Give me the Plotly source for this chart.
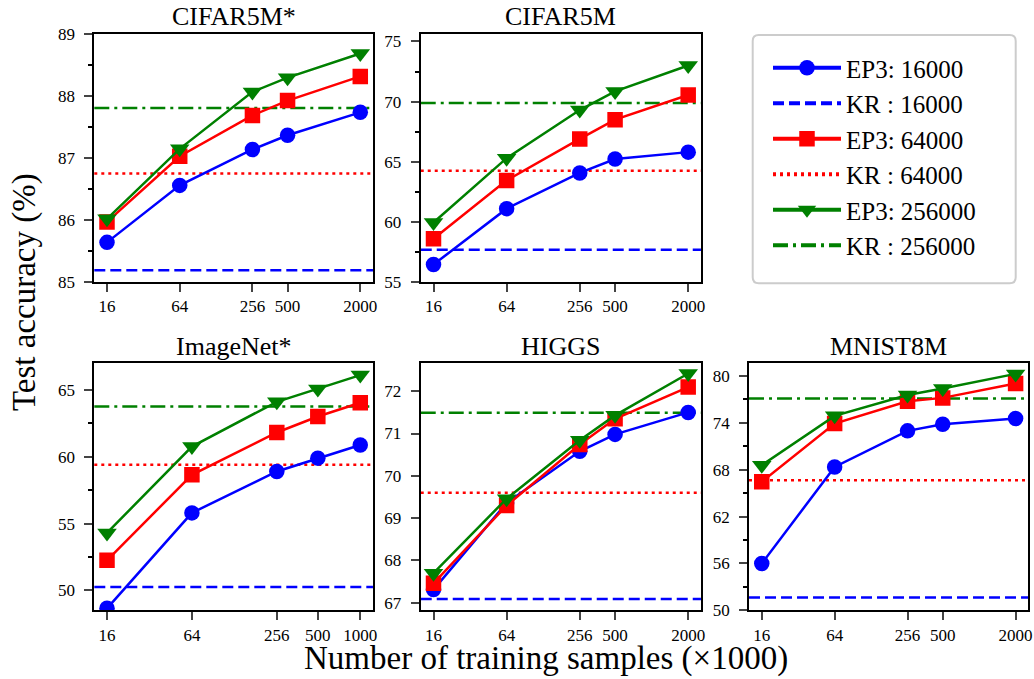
import plotly.graph_objects as go

# ---------------- data ----------------
x_samples = [16, 64, 256, 500, 2000]
x_samples_imagenet = [16, 64, 256, 500, 1000]
x_ticktext = ["16", "64", "256", "500", "2000"]
x_ticktext_imagenet = ["16", "64", "256", "500", "1000"]

titles = ["CIFAR5M*", "CIFAR5M", "ImageNet*", "HIGGS", "MNIST8M"]
series_names = ["16000", "64000", "256000"]

cifar5m_star_ep3 = [
    [85.64, 86.56, 87.14, 87.37, 87.74],
    [85.97, 87.03, 87.69, 87.93, 88.32],
    [86.02, 87.15, 88.07, 88.30, 88.69],
]
cifar5m_star_kr = [85.19, 86.75, 87.81]

cifar5m_ep3 = [
    [56.45, 61.10, 64.07, 65.22, 65.80],
    [58.60, 63.45, 66.90, 68.50, 70.55],
    [59.95, 65.30, 69.30, 70.85, 73.00],
]
cifar5m_kr = [57.69, 64.25, 69.88]

imagenet_star_ep3 = [
    [48.65, 55.80, 58.90, 59.90, 60.88],
    [52.25, 58.65, 61.82, 63.02, 64.05],
    [54.30, 60.77, 64.12, 65.08, 66.12],
]
imagenet_star_kr = [50.25, 59.40, 63.77]

higgs_ep3 = [
    [67.31, 69.36, 70.58, 70.98, 71.50],
    [67.46, 69.30, 70.74, 71.35, 72.10],
    [67.70, 69.46, 70.84, 71.43, 72.42],
]
higgs_kr = [67.09, 69.60, 71.49]

mnist8m_ep3 = [
    [55.98, 68.35, 72.96, 73.82, 74.54],
    [66.45, 73.90, 76.75, 77.18, 79.03],
    [68.57, 74.88, 77.55, 78.38, 80.25],
]
mnist8m_kr = [51.65, 66.65, 77.10]

y_tickvals = [
    [85, 86, 87, 88, 89],
    [55, 60, 65, 70, 75],
    [50, 55, 60, 65],
    [67, 68, 69, 70, 71, 72],
    [50, 56, 62, 68, 74, 80],
]

# ---------------- styles ----------------
FONT = "Liberation Serif"
colors = ["#0000ff", "#ff0000", "#008000"]
symbols = ["circle", "square", "triangle-down"]
msizes = [15.5, 15.5, 17]
kr_dash = ["11px,5px", "3px,4px", "15px,5px,3px,5px"]

panels = [
    (x_samples, x_ticktext, cifar5m_star_ep3, cifar5m_star_kr),
    (x_samples, x_ticktext, cifar5m_ep3, cifar5m_kr),
    (x_samples_imagenet, x_ticktext_imagenet, imagenet_star_ep3, imagenet_star_kr),
    (x_samples, x_ticktext, higgs_ep3, higgs_kr),
    (x_samples, x_ticktext, mnist8m_ep3, mnist8m_kr),
]

W, H = 1034, 679
col_dom = [[0.0912, 0.3607], [0.4069, 0.6779], [0.7244, 0.9945]]
row_dom = [[0.5847, 0.9495], [0.1011, 0.4649]]
positions = [(0, 0), (0, 1), (1, 0), (1, 1), (1, 2)]
x_ranges = [[1.099, 3.406], [1.099, 3.406], [1.114, 3.090], [1.099, 3.406], [1.099, 3.406]]
y_ranges = [[85, 89], [55, 75.6], [48.5, 67.0], [66.82, 72.66], [50, 81.6]]
minor_dt = [0.5, 2.5, 2.5, None, 3]

fig = go.Figure()
shapes = []
annotations = []
layout = {}

# legend-only entries (thicker samples, as in the reference legend)
for k in range(3):
    fig.add_trace(go.Scatter(
        x=[None], y=[None], mode="lines+markers", name="EP3: " + series_names[k],
        line=dict(color=colors[k], width=4),
        marker=dict(symbol=symbols[k], size=msizes[k], color=colors[k]),
        showlegend=True,
    ))
    fig.add_trace(go.Scatter(
        x=[None], y=[None], mode="lines", name="KR : " + series_names[k],
        line=dict(color=colors[k], width=4, dash=kr_dash[k]),
        showlegend=True,
    ))

for i, (xs, xtt, ep3, kr) in enumerate(panels):
    ax = "" if i == 0 else str(i + 1)
    xref, yref = "x" + ax, "y" + ax
    for k in range(3):
        fig.add_trace(go.Scatter(
            x=xs, y=ep3[k], xaxis=xref, yaxis=yref,
            mode="lines+markers", name="EP3: " + series_names[k],
            line=dict(color=colors[k], width=2.5),
            marker=dict(symbol=symbols[k], size=msizes[k], color=colors[k],
                        line=dict(width=0)),
            showlegend=False,
        ))
        shapes.append(dict(
            type="line", xref=xref + " domain", yref=yref, x0=0, x1=1,
            y0=kr[k], y1=kr[k], layer="below",
            line=dict(color=colors[k], width=2.5, dash=kr_dash[k]),
        ))
    r, c = positions[i]
    layout["xaxis" + ax] = dict(
        domain=col_dom[c], anchor=yref, type="log", range=x_ranges[i],
        tickvals=xs, ticktext=xtt, ticks="outside", ticklen=8, tickwidth=1.5,
        showline=True, mirror=True, linewidth=2, linecolor="black",
        showgrid=False, zeroline=False,
        tickfont=dict(family=FONT, size=17, color="black"),
    )
    ydict = dict(
        domain=row_dom[r], anchor=xref, range=y_ranges[i],
        tickvals=y_tickvals[i], ticks="outside", ticklen=8, tickwidth=1.5,
        showline=True, mirror=True, linewidth=2, linecolor="black",
        showgrid=False, zeroline=False, ticklabelstandoff=6,
        tickfont=dict(family=FONT, size=17, color="black"),
    )
    if minor_dt[i]:
        ydict["minor"] = dict(dtick=minor_dt[i], tick0=y_tickvals[i][0],
                              ticks="outside", ticklen=4, tickwidth=1.5,
                              tickcolor="black", showgrid=False)
    layout["yaxis" + ax] = ydict
    annotations.append(dict(
        text=titles[i], xref="paper", yref="paper",
        x=sum(col_dom[c]) / 2, y=(0.975 if r == 0 else 0.4904),
        xanchor="center", yanchor="middle", showarrow=False,
        font=dict(family=FONT, size=26, color="black"),
    ))

annotations.append(dict(
    text="Test accuracy (%)", xref="paper", yref="paper", x=0.0242, y=0.570,
    xanchor="center", yanchor="middle", textangle=-90, showarrow=False,
    font=dict(family=FONT, size=33, color="black"),
))
annotations.append(dict(
    text="Number of training samples (×1000)", xref="paper", yref="paper",
    x=0.5285, y=0.0, xanchor="center", yanchor="bottom", showarrow=False,
    font=dict(family=FONT, size=33, color="black"),
))

# rounded legend frame (decoration, paper coordinates)
lx0, lx1, ly0, ly1, rad = 752.7 / W, 1015.7 / W, 1 - 283.3 / H, 1 - 35 / H, 6
rx, ry = rad / W, rad / H
frame_path = (
    f"M{lx0 + rx},{ly1} L{lx1 - rx},{ly1} Q{lx1},{ly1} {lx1},{ly1 - ry} "
    f"L{lx1},{ly0 + ry} Q{lx1},{ly0} {lx1 - rx},{ly0} L{lx0 + rx},{ly0} "
    f"Q{lx0},{ly0} {lx0},{ly0 + ry} L{lx0},{ly1 - ry} Q{lx0},{ly1} {lx0 + rx},{ly1} Z"
)
shapes.append(dict(type="path", xref="paper", yref="paper", path=frame_path,
                   line=dict(color="#cccccc", width=2), fillcolor="white",
                   layer="below"))

fig.update_layout(
    width=W, height=H, margin=dict(l=0, r=0, t=0, b=0, autoexpand=False),
    paper_bgcolor="white", plot_bgcolor="white",
    shapes=shapes, annotations=annotations,
    legend=dict(x=768 / W, y=1 - 45 / H, xanchor="left", yanchor="top",
                bgcolor="rgba(0,0,0,0)", borderwidth=0,
                font=dict(family=FONT, size=25, color="black"),
                itemwidth=68, traceorder="normal"),
    **layout,
)

fig.write_html("out.html",
               config={"displayModeBar": False},
               post_script="document.body.style.margin='0px';")
